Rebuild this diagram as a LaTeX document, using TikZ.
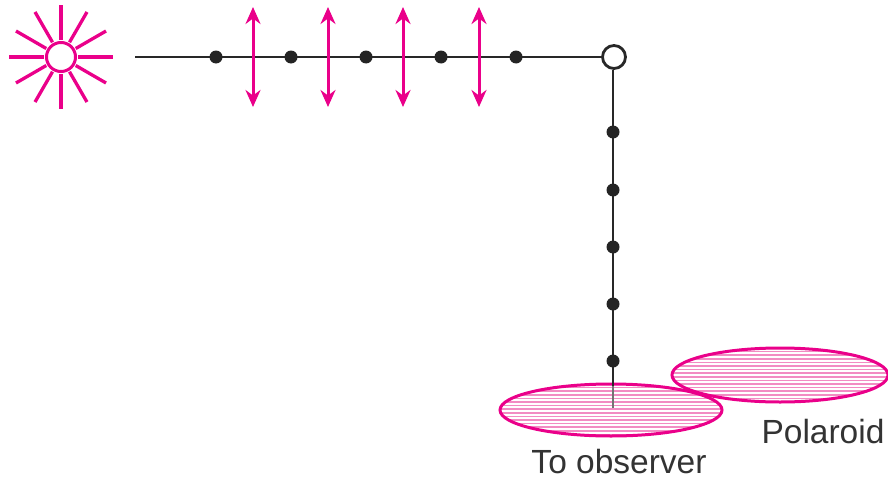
\documentclass[tikz,border=0pt]{standalone}
\usepackage{fontspec}
\setmainfont{Liberation Sans}
\usetikzlibrary{arrows.meta,calc}
\definecolor{mag}{RGB}{234,0,138}
\definecolor{hatchpink}{RGB}{242,140,195}
\definecolor{ray}{RGB}{40,40,40}
\tikzset{
  beam/.style={draw=ray, line width=2.9pt},
  pdot/.style={circle, fill=ray!90!black, inner sep=0pt, minimum size=13pt},
  vib/.style={draw=mag, line width=3pt, {Stealth[length=17pt,width=15pt]}-{Stealth[length=17pt,width=15pt]}},
  sunray/.style={draw=mag, line width=3.3pt},
  lens/.style={draw=mag, line width=3pt},
  hatch/.style={draw=hatchpink, line width=1.5pt},
  lbl/.style={font=\fontsize{33.5}{38}\selectfont, text=black!80, inner sep=0pt, anchor=base}
}
\begin{document}
\begin{tikzpicture}[x=1pt,y=-1pt]
\useasboundingbox (0,0) rectangle (888,479);

% light source
\node[circle, draw=mag, line width=3pt, minimum size=29pt, inner sep=0pt] (sun) at (61,57) {};
\foreach \a in {0,30,...,330}
  \draw[sunray] ($(sun.center)+(\a:17)$) -- ($(sun.center)+(\a:52)$);

% scattering point and beam path
\node[circle, draw=ray, line width=2.8pt, fill=white, minimum size=23pt, inner sep=0pt] (turn) at (614,57) {};
\coordinate (start) at (135,57);
\coordinate (eye) at (613,408);
\coordinate (lensTop) at (613,386);

% second polaroid (behind)
\begin{scope}
  \clip (780,375) ellipse [x radius=108, y radius=27];
  \foreach \y in {348,351.6,...,403} \draw[hatch] (670,\y) -- (890,\y);
\end{scope}
\draw[lens] (780,375) ellipse [x radius=108, y radius=27];

% front polaroid
\fill[white] (611,410) ellipse [x radius=111, y radius=26];
\begin{scope}
  \clip (611,410) ellipse [x radius=111, y radius=26];
  \foreach \y in {384,387.6,...,437} \draw[hatch] (498,\y) -- (724,\y);
\end{scope}
\draw[lens] (611,410) ellipse [x radius=111, y radius=26];

\draw[beam] (start) -- (turn.west);
\draw[beam] (turn.south -| lensTop) -- (lensTop);
\draw[draw=ray!65, line width=2.9pt] (lensTop) -- (eye);

% vibrations across the incident beam
\foreach \x [count=\i] in {216,291,366,441,516}
  \node[pdot] (h\i) at (\x,57) {};
\foreach \x [count=\i] in {253,328,403,479} {
  \coordinate (vt\i) at (\x,7);
  \coordinate (vb\i) at (\x,107);
  \draw[vib] (vt\i) -- (vb\i);
}

% vibrations along the scattered beam
\foreach \y [count=\i] in {132,190,247,304,361}
  \node[pdot] (v\i) at (613,\y) {};

% labels
\node[lbl] (lpol) at (823,443) {Polaroid};
\node[lbl] (lobs) at (619,473) {To observer};
\end{tikzpicture}
\end{document}
